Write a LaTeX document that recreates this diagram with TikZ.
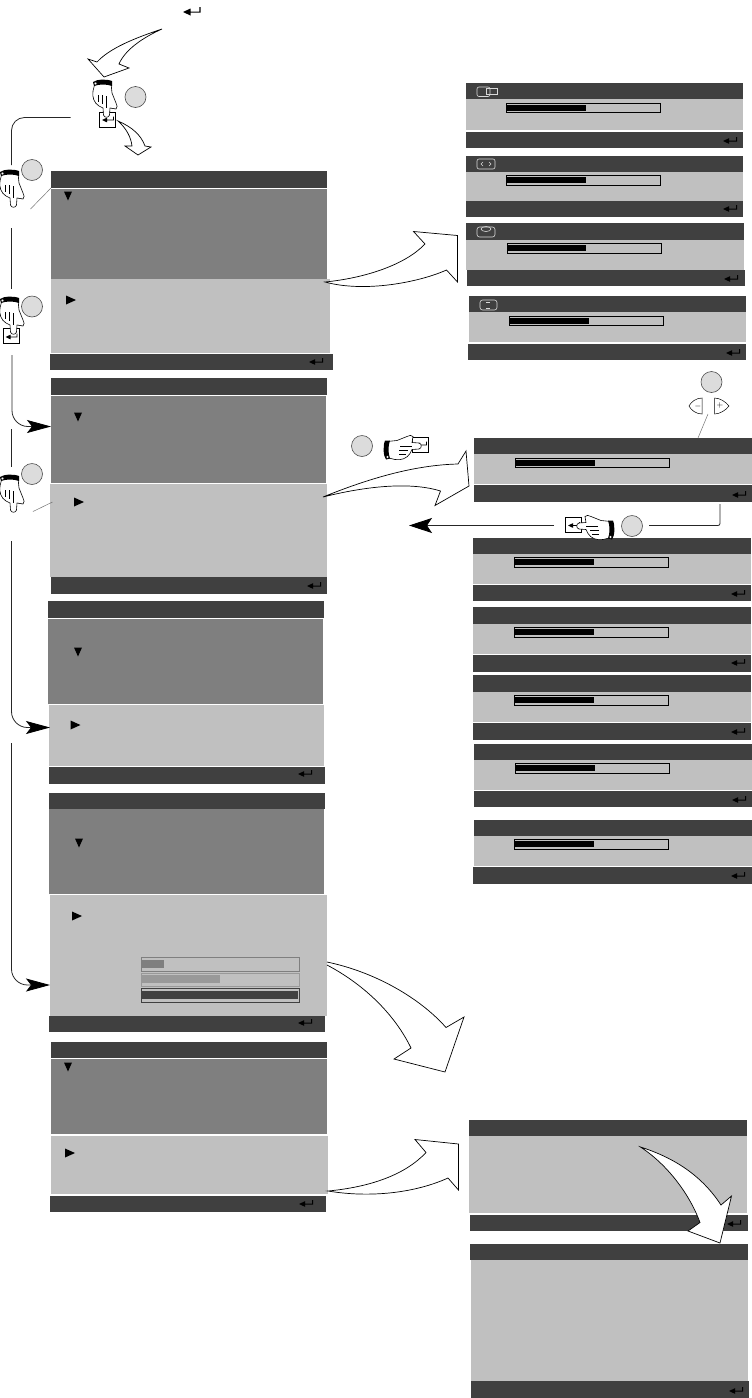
\documentclass[tikz,border=0pt]{standalone}
\usetikzlibrary{arrows.meta}
\definecolor{screendark}{HTML}{404040}
\definecolor{screenmid}{HTML}{7F7F7F}
\definecolor{screenlow}{HTML}{C0C0C0}
\definecolor{badgegray}{HTML}{DCDCDC}
\tikzset{
  strip/.style={anchor=north west,inner sep=0pt,outer sep=0pt,draw=none},
  darkbar/.style={strip,fill=screendark,minimum width=277pt,minimum height=17pt},
  midpanel/.style={strip,fill=screenmid,minimum width=276pt},
  lowpanel/.style={strip,fill=screenlow,minimum width=277pt},
  meterbox/.style={strip,draw=black,line width=.8pt,minimum width=154.5pt,minimum height=9.5pt},
  meterfill/.style={strip,fill=black,minimum width=79pt,minimum height=6pt},
  badge/.style={circle,draw=black!70,fill=badgegray,line width=.6pt,minimum size=21pt,inner sep=0pt},
  keybox/.style={strip,draw=black,fill=white,line width=.8pt,minimum width=16pt,minimum height=15pt},
  flow/.style={draw=black!85,line width=.8pt},
  flowhead/.style={flow,-{Stealth[length=24pt,width=13pt,inset=5pt,fill=black,color=black]},rounded corners=16pt},
  blockarrow/.style={draw=black,fill=white,line width=.7pt,line join=miter},
  iconline/.style={draw=white!85!black,line width=.6pt},
  callout/.style={draw=black!55,line width=.5pt},
  enter/.pic={
    \fill[black] (0,0) -- (6,-2.8) -- (6,-.4) -- (13,-.4) -- (13,-4) -- (14,-4) -- (14,.5) -- (6,.5) -- (6,2.8) -- cycle;
  },
  downmark/.pic={\fill[black] (-4,-4.5) -- (4,-4.5) -- (0,4.5) -- cycle;},
  rightmark/.pic={\fill[black] (0,-4.5) -- (10,0) -- (0,4.5) -- cycle;},
  hand/.pic={
    \draw[fill=white,line width=.6pt,line join=round] (-12,-34) -- (-14,-26) .. controls (-15,-20) and (-13,-14) .. (-8,-11) -- (-4,-9) -- (-3.5,-2) .. controls (-3,1) and (2,1) .. (2.5,-2) -- (3,-9) -- (9,-8) .. controls (11,-9) and (10,-12) .. (9,-14) -- (5,-24) -- (4,-34) -- cycle;
    \draw[line width=.5pt] (-9,-22) -- (-9,-15);
    \draw[line width=.5pt] (-5,-22) -- (-5,-13);
    \draw[line width=.5pt] (-1,-21) -- (-1,-9);
    \fill[black] (-14,-35) .. controls (-10,-38) and (0,-38) .. (5,-36) -- (5,-31) .. controls (0,-33) and (-8,-33) .. (-13,-31) -- cycle;
    \draw[fill=white,line width=.4pt] (-11.5,-33.5) circle (1.6);
  },
}
\begin{document}
\begin{tikzpicture}[x=1pt,y=-1pt]
  \useasboundingbox (0,0) rectangle (752,1398);
  \node[darkbar,minimum width=276pt] (p1title) at (51,171) {};
  \node[midpanel,minimum height=90pt] (p1mid) at (51,189) {};
  \node[lowpanel,minimum width=279pt,minimum height=74pt] (p1low) at (51,279) {};
  \node[darkbar,minimum width=283pt,minimum height=16pt] (p1foot) at (50,354) {};
  \node[darkbar,minimum width=276pt] (p2title) at (51,378) {};
  \node[midpanel,minimum width=275pt,minimum height=87pt] (p2mid) at (51,396) {};
  \node[lowpanel,minimum height=93pt] (p2low) at (50,484) {};
  \node[darkbar,minimum width=276pt] (p2foot) at (51,577) {};
  \node[darkbar,minimum width=276pt] (p3title) at (48,601) {};
  \node[midpanel,minimum width=275pt,minimum height=85pt] (p3mid) at (48,619) {};
  \node[lowpanel,minimum width=275pt,minimum height=61pt] (p3low) at (49,705) {};
  \node[darkbar,minimum width=276pt] (p3foot) at (49,767) {};
  \node[darkbar,minimum width=276pt,minimum height=16pt] (p4title) at (49,793) {};
  \node[midpanel,minimum width=275pt,minimum height=85pt] (p4mid) at (49,809) {};
  \node[lowpanel,minimum height=121pt] (p4low) at (50,895) {};
  \node[darkbar,minimum width=276pt,minimum height=16pt] (p4foot) at (49,1016) {};
  \node[darkbar,minimum width=276pt,minimum height=16pt] (p5title) at (51,1042) {};
  \node[midpanel,minimum height=75pt] (p5mid) at (51,1059) {};
  \node[lowpanel,minimum height=58pt] (p5low) at (51,1136) {};
  \node[darkbar,minimum width=276pt,minimum height=16pt] (p5foot) at (50,1196) {};
  \pic at (68,196) {downmark};
  \pic at (66,300) {rightmark};
  \pic at (78,417) {downmark};
  \pic at (74,502) {rightmark};
  \pic at (78,652) {downmark};
  \pic at (70.5,725) {rightmark};
  \pic at (79,843) {downmark};
  \pic at (72,916) {rightmark};
  \pic at (68,1067) {downmark};
  \pic at (65,1153) {rightmark};
  \pic at (309,362) {enter};
  \pic at (307,586) {enter};
  \pic at (298,774) {enter};
  \pic at (298,1023) {enter};
  \pic at (299,1204) {enter};
  \node[strip,draw=screenmid,line width=.8pt,minimum width=158.5pt,minimum height=13.5pt] (level1) at (141,957.5) {};
  \node[strip,fill=screenmid,minimum width=22pt,minimum height=8pt] (level1fill) at (142,960) {};
  \node[strip,draw=black!40,line width=.8pt,minimum width=158.5pt,minimum height=12.5pt] (level2) at (141,973.5) {};
  \node[strip,fill=black!40,minimum width=78pt,minimum height=8pt] (level2fill) at (142,975) {};
  \node[strip,draw=screendark,line width=.8pt,minimum width=158.5pt,minimum height=13.5pt] (level3) at (141,988.5) {};
  \node[strip,fill=screendark,minimum width=156pt,minimum height=8pt] (level3fill) at (142,991) {};

  \node[darkbar] (r1title) at (466,83) {};
  \node[lowpanel,minimum height=31pt] (r1low) at (466,99) {};
  \node[darkbar,minimum height=16pt] (r1foot) at (466,132) {};
  \node[meterbox] (r1meter) at (506,103) {};
  \node[meterfill] (r1fill) at (507,105) {};
  \node[darkbar] (r2title) at (466,156) {};
  \node[lowpanel,minimum height=29pt] (r2low) at (466,172) {};
  \node[darkbar,minimum height=16pt] (r2foot) at (466,201) {};
  \node[meterbox] (r2meter) at (506,175.5) {};
  \node[meterfill] (r2fill) at (507,177) {};
  \node[darkbar,minimum width=278pt] (r3title) at (466,223) {};
  \node[lowpanel,minimum width=278pt,minimum height=30pt] (r3low) at (466,240) {};
  \node[darkbar,minimum width=278pt,minimum height=16pt] (r3foot) at (467,270) {};
  \node[meterbox] (r3meter) at (507,243.5) {};
  \node[meterfill,minimum width=78pt] (r3fill) at (508,245) {};
  \node[darkbar,minimum height=16pt] (r4title) at (469,296) {};
  \node[lowpanel,minimum height=30pt] (r4low) at (469,312) {};
  \node[darkbar,minimum width=278pt,minimum height=16pt] (r4foot) at (468,344) {};
  \node[meterbox,minimum height=9pt] (r4meter) at (509,316) {};
  \node[meterfill] (r4fill) at (510,317.5) {};
  \node[darkbar,minimum width=278pt,minimum height=16pt] (r5title) at (474,438) {};
  \node[lowpanel,minimum width=278pt,minimum height=30pt] (r5low) at (474,454) {};
  \node[darkbar,minimum width=278pt] (r5foot) at (474,485) {};
  \node[meterbox,minimum height=9pt] (r5meter) at (515,458) {};
  \node[meterfill] (r5fill) at (516,459.5) {};
  \node[darkbar,minimum width=278pt,minimum height=16pt] (r6title) at (473,538) {};
  \node[lowpanel,minimum width=278pt,minimum height=30pt] (r6low) at (473,554) {};
  \node[darkbar,minimum width=278pt,minimum height=16pt] (r6foot) at (473,585) {};
  \node[meterbox] (r6meter) at (514,557.5) {};
  \node[meterfill] (r6fill) at (515,559) {};
  \node[darkbar,minimum width=278pt] (r7title) at (473,607) {};
  \node[lowpanel,minimum width=278pt,minimum height=30pt] (r7low) at (473,624) {};
  \node[darkbar,minimum width=278pt] (r7foot) at (473,655) {};
  \node[meterbox] (r7meter) at (514,627.5) {};
  \node[meterfill] (r7fill) at (515,629) {};
  \node[darkbar,minimum width=278pt] (r8title) at (473,675) {};
  \node[lowpanel,minimum width=278pt,minimum height=30pt] (r8low) at (473,692) {};
  \node[darkbar,minimum width=278pt] (r8foot) at (473,723) {};
  \node[meterbox] (r8meter) at (514,695.5) {};
  \node[meterfill] (r8fill) at (515,697) {};
  \node[darkbar,minimum width=278pt,minimum height=16pt] (r9title) at (474,744) {};
  \node[lowpanel,minimum width=278pt,minimum height=30pt] (r9low) at (474,760) {};
  \node[darkbar,minimum width=278pt,minimum height=16pt] (r9foot) at (474,791) {};
  \node[meterbox] (r9meter) at (515,763.5) {};
  \node[meterfill] (r9fill) at (516,765) {};
  \node[darkbar,minimum width=278pt,minimum height=16pt] (r10title) at (474,820) {};
  \node[lowpanel,minimum width=278pt,minimum height=30pt] (r10low) at (474,836) {};
  \node[darkbar,minimum width=279pt] (r10foot) at (473,867) {};
  \node[meterbox] (r10meter) at (514,839.5) {};
  \node[meterfill] (r10fill) at (515,841) {};
  \node[darkbar,minimum width=278pt,minimum height=16pt] (r11title) at (469,1120) {};
  \node[lowpanel,minimum width=278pt,minimum height=77pt] (r11low) at (469,1136) {};
  \node[darkbar,minimum width=278pt,minimum height=16pt] (r11foot) at (470,1215) {};
  \node[darkbar,minimum width=278pt,minimum height=16pt] (r12title) at (470,1244) {};
  \node[lowpanel,minimum height=121pt] (r12low) at (471,1260) {};
  \node[darkbar,minimum width=278pt] (r12foot) at (471,1381) {};
  \pic at (723,141) {enter};
  \pic at (723,209) {enter};
  \pic at (724,279) {enter};
  \pic at (726,353) {enter};
  \pic at (732,495) {enter};
  \pic at (731,594) {enter};
  \pic at (731,663) {enter};
  \pic at (731,732) {enter};
  \pic at (732,800) {enter};
  \pic at (731,876) {enter};
  \pic at (727,1224) {enter};
  \pic at (729,1391) {enter};

  \draw[iconline,rounded corners=2pt] (477,87) rectangle (490,96.5);
  \draw[iconline] (486,88.5) rectangle (497,94.5);
  \draw[iconline,rounded corners=2pt] (477,159) rectangle (495,169);
  \draw[iconline] (483,162) -- (481,164) -- (483,166);
  \draw[iconline] (489,162) -- (491,164) -- (489,166);
  \draw[iconline,rounded corners=2.5pt] (477,227) rectangle (495,237);
  \draw[iconline] (486,229) ellipse (5 and 2.5);
  \draw[iconline,rounded corners=2.5pt] (480,300) rectangle (497,310);
  \draw[iconline] (486,302) -- (490,302);
  \draw[iconline] (486,308) -- (490,308);

  \pic[scale=1.25] at (183,12) {enter};
  \draw[blockarrow] (162,29) .. controls (135,38) and (110,48) .. (97,62) -- (88,59) -- (104,77) -- (129,68) -- (119,64) .. controls (125,50) and (142,38) .. cycle;
  \node[keybox] (key1) at (99.5,112.5) {};
  \pic[scale=.85] at (102,120) {enter};
  \pic at (107,117) {hand};
  \node[badge] (b1) at (135.5,97) {};
  \draw[blockarrow] (118,121) .. controls (132,127) and (141,135) .. (145,146) -- (151,147) -- (138,155) -- (125,146) -- (132,146) .. controls (131,137) and (126,128) .. cycle;
  \coordinate (start1) at (70.5,117.5);
  \coordinate (stop1) at (11.5,165);
  \draw[flow,rounded corners=13pt] (start1) -| (stop1);

  \pic at (14,207) {hand};
  \node[badge] (b2) at (32,170) {};
  \coordinate (tip2) at (30.5,209);
  \draw[callout] (tip2) -- (p1title.south west);
  \coordinate (start2) at (11.5,228);
  \coordinate (stop2) at (11.5,289);
  \draw[flow] (start2) -- (stop2);

  \node[keybox] (key3) at (3.5,328.5) {};
  \pic[scale=.85] at (5.5,337) {enter};
  \pic at (14,334) {hand};
  \node[badge] (b3) at (32,306.5) {};
  \coordinate (start3) at (12,355);
  \coordinate (in3) at (51,426.5);
  \draw[flowhead] (start3) |- (in3);
  \coordinate (start4) at (11.5,429);
  \coordinate (stop4) at (11.5,466.5);
  \draw[flow] (start4) -- (stop4);

  \pic at (14,512) {hand};
  \node[badge] (b4) at (32,474) {};
  \coordinate (tip4) at (33,511.5);
  \coordinate (side4) at (52.5,502);
  \draw[callout] (tip4) -- (side4);
  \coordinate (start5) at (11.5,541);
  \coordinate (in5) at (50,727.5);
  \draw[flowhead] (start5) |- (in5);
  \coordinate (start6) at (11.5,743);
  \coordinate (in6) at (50,985);
  \draw[flowhead] (start6) |- (in6);

  \draw[blockarrow] (325,282) .. controls (365,278) and (405,265) .. (425,244) -- (413.5,231.5) -- (457.5,235.5) -- (457.5,282) -- (446.5,270) .. controls (420,282) and (365,293) .. cycle;
  \draw[blockarrow] (323,497) .. controls (370,478) and (415,465) .. (458,464) -- (466,451) -- (469,486) -- (435,505.5) -- (440.5,491) .. controls (415,483) and (375,484) .. cycle;
  \draw[blockarrow] (327,962) .. controls (375,972) and (420,998) .. (446,1027.5) -- (464,1017) -- (445,1072) -- (394,1059) -- (411,1048) .. controls (395,1015) and (365,985) .. (327,965);
  \draw[blockarrow] (328,1191) .. controls (370,1187) and (405,1175) .. (426,1152.5) -- (415,1139.5) -- (458.5,1144) -- (458.5,1190) -- (448,1178) .. controls (415,1193) and (370,1198) .. cycle;
  \draw[blockarrow] (640.5,1147) .. controls (675,1158) and (702,1176) .. (721,1205) -- (731.5,1196) -- (720,1243) -- (688,1231) -- (700,1222.5) .. controls (690,1195) and (668,1165) .. cycle;

  \node[badge] (b5) at (362,446) {};
  \node[keybox] (key5) at (412.5,437.5) {};
  \pic[scale=.85] at (415,445) {enter};
  \pic[rotate=90] at (421,445.5) {hand};

  \node[badge] (b6) at (711.5,382) {};
  \node[inner sep=0pt,font=\footnotesize] (minuskey) at (698,406) {$-$};
  \node[inner sep=0pt,font=\footnotesize] (pluskey) at (720,405.5) {$+$};
  \draw[line width=.5pt] (702,398) .. controls (696,398) and (691,402) .. (689,406) .. controls (691,410) and (696,414) .. (702,414) -- cycle;
  \draw[line width=.5pt] (714.5,398) .. controls (720,398) and (726,402) .. (729,406) .. controls (726,410) and (720,414) .. (714.5,414) -- cycle;
  \coordinate (tip6) at (708,414);
  \coordinate (top6) at (698,438);
  \draw[callout] (tip6) -- (top6);

  \coordinate (start7) at (720,504);
  \coordinate (stop7) at (649,525.5);
  \draw[flow,rounded corners=2pt] (start7) |- (stop7);
  \node[badge] (b7) at (632,526) {};
  \node[keybox] (key7) at (565.5,517.5) {};
  \pic[scale=.85] at (568,525.5) {enter};
  \pic[rotate=-90,xscale=-1] at (577,525.5) {hand};
  \coordinate (start8) at (554,525.5);
  \coordinate (in8) at (409,525.5);
  \draw[flow,-{Stealth[length=23pt,width=15pt,inset=5pt,fill=black,color=black]}] (start8) -- (in8);
\end{tikzpicture}
\end{document}
